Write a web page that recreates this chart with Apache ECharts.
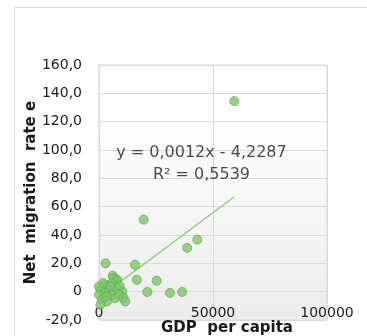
<!DOCTYPE html>
<html>
<head>
<meta charset="utf-8">
<script src="https://cdn.jsdelivr.net/npm/echarts@6/dist/echarts.min.js"></script>
<style>
  html, body { margin: 0; padding: 0; background: #ffffff; }
  #chart { width: 367px; height: 336px; }
</style>
</head>
<body>
<div id="chart"></div>
<script>
// GDP per capita (x) against net migration rate (y), one entry per country
const gdpPerCapita = [
  59350, 43100, 38700, 19600, 2900, 15800, 16600, 25300, 21200, 31100, 36500,
  6000, 7500, 6400, 7900, 5700, 2800, 600, 4200, 7900, 10100, 10800, 11500,
  0, 1300, 3500, 600, 5700, 7100, 2800, 5000, 0, 1800, 9000, 3300, 8600
];
const netMigration = [
  134.5, 36.7, 30.9, 50.9, 20.0, 19.0, 8.4, 7.7, -0.2, -0.9, -0.2,
  11.3, 8.5, 9.7, 8.5, 6.1, 4.9, 1.4, 1.4, 2.6, 0.2, -4.5, -6.9,
  -2.1, -5.7, -6.9, -9.2, -2.1, -4.5, -0.9, 3.7, 3.7, 6.0, 4.0, -3.3, -1.5
];

// Linear trendline coefficients and the fit text printed on the chart
const trendSlope = 0.0012;
const trendIntercept = -4.2287;
const trendLabel = ['y = 0,0012x - 4,2287', 'R² = 0,5539'];
// data-space anchors of the two fit-text lines
const trendLabelAnchor = [[44950, 97.9], [44950, 82.4]];

const xTitle = 'GDP  per capita';
const yTitle = 'Net  migration  rate e';

const points = gdpPerCapita.map((x, i) => [x, netMigration[i]]);
const xMin = Math.min(...gdpPerCapita);
const xMax = Math.max(...gdpPerCapita);
const trendLine = [
  [xMin, trendSlope * xMin + trendIntercept],
  [xMax, trendSlope * xMax + trendIntercept]
];

const fontFamily = 'DejaVu Sans, Verdana, sans-serif';
const gridColor = '#d9d9d9';

const chart = echarts.init(document.getElementById('chart'), null, { renderer: 'canvas' });
chart.setOption({
  animation: false,
  backgroundColor: '#ffffff',
  graphic: [
    {
      type: 'rect',
      silent: true,
      z: -10,
      shape: { x: 14.5, y: 7.5, width: 400, height: 400 },
      style: { fill: '#ffffff', stroke: '#d9d9d9', lineWidth: 1 }
    }
  ],
  grid: {
    left: 99, top: 65, width: 228, height: 255,
    containLabel: false,
    outerBoundsMode: 'none',
    show: true,
    borderColor: gridColor,
    borderWidth: 1,
    backgroundColor: new echarts.graphic.LinearGradient(0, 0, 0, 1, [
      { offset: 0, color: '#ffffff' },
      { offset: 0.2, color: '#ffffff' },
      { offset: 1, color: '#ececec' }
    ])
  },
  xAxis: {
    type: 'value',
    min: 0, max: 100000, interval: 50000,
    name: xTitle,
    nameLocation: 'middle',
    nameGap: 1,
    nameMoveOverlap: false,
    nameTextStyle: { fontFamily, fontSize: 15, fontWeight: 'bold', color: '#1a1a1a', padding: [0, 0, 0, 28] },
    axisLine: { show: false },
    axisTick: { show: false },
    axisLabel: {
      margin: -14,
      fontFamily, fontSize: 14, color: '#1a1a1a',
      formatter: v => String(v)
    },
    splitLine: { show: true, lineStyle: { color: gridColor, width: 1 } }
  },
  yAxis: {
    type: 'value',
    min: -20, max: 160, interval: 20,
    name: yTitle,
    nameLocation: 'middle',
    nameGap: 60,
    nameRotate: 90,
    nameMoveOverlap: false,
    nameTextStyle: { fontFamily, fontSize: 15, fontWeight: 'bold', color: '#1a1a1a' },
    axisLine: { show: false },
    axisTick: { show: false },
    axisLabel: {
      margin: 17,
      fontFamily, fontSize: 14, color: '#1a1a1a',
      formatter: v => v === 0 ? '0' : v.toFixed(1).replace('.', ',')
    },
    splitLine: { show: true, lineStyle: { color: gridColor, width: 1 } }
  },
  series: [
    {
      type: 'line',
      data: trendLine,
      showSymbol: false,
      symbol: 'none',
      lineStyle: { color: '#8ed27c', width: 1.5 },
      z: 2,
      silent: true
    },
    {
      type: 'scatter',
      data: points,
      symbolSize: 9,
      itemStyle: { color: '#80c56e', borderColor: '#66ad55', borderWidth: 1 },
      z: 3
    },
    {
      type: 'scatter',
      data: trendLabelAnchor,
      symbolSize: 0,
      silent: true,
      z: 4,
      label: {
        show: true,
        position: 'inside',
        fontFamily, fontSize: 16, color: '#1a1a1a',
        formatter: p => trendLabel[p.dataIndex]
      }
    }
  ]
});
</script>
</body>
</html>
